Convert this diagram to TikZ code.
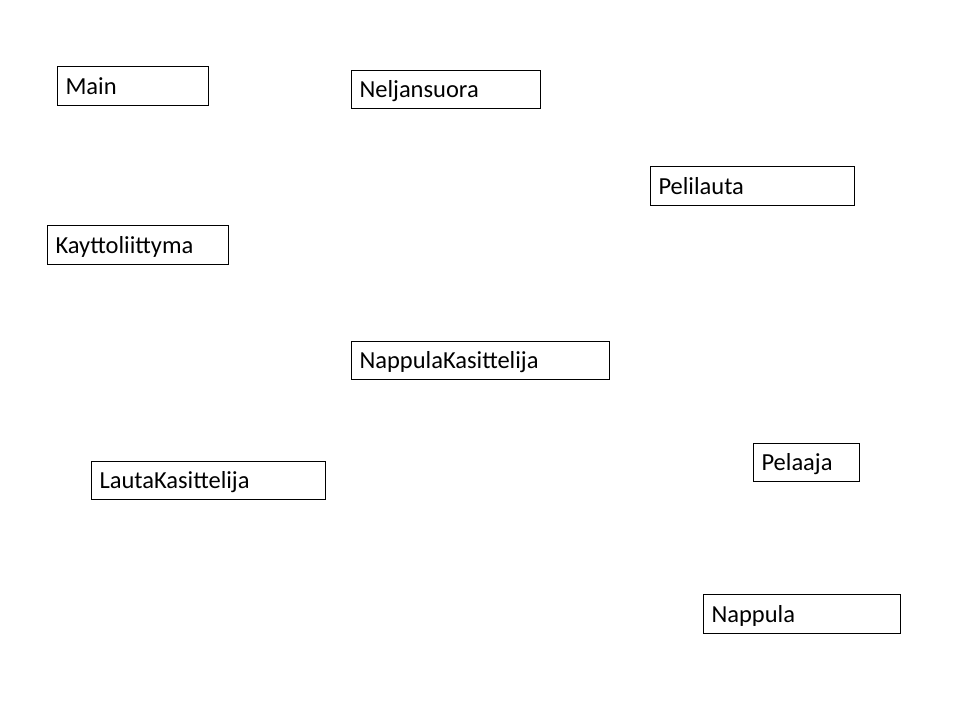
\documentclass[tikz,border=0pt]{standalone}
\usepackage{fontspec}
\setmainfont{Carlito}
\begin{document}
\begin{tikzpicture}[x=1pt,y=1pt,
  box/.style={draw=black, line width=1pt, anchor=north west, inner xsep=8pt,
    inner ysep=0pt, text height=18pt, text depth=2pt, align=left,
    font=\fontsize{24.5}{28}\selectfont, fill=white}]
\useasboundingbox (0,0) rectangle (960,-720);
\fill[white] (0,0) rectangle (960,-720);
\newcommand{\umlbox}[6]{%
  \node[box, minimum width={#4-#2}, minimum height={#5-#3}, text width={#4-#2-16}] (#1) at (#2,-#3) {#6};}
\umlbox{main}{57}{66}{208}{105}{Main}
\umlbox{nelj}{351}{70}{540}{108}{Neljansuora}
\umlbox{peli}{650}{166}{854}{205}{Pelilauta}
\umlbox{kayt}{47}{225}{228}{264}{Kayttoliittyma}
\umlbox{nkas}{351}{341}{609}{379}{NappulaKasittelija}
\umlbox{pela}{753}{443}{859}{481}{Pelaaja}
\umlbox{lkas}{91}{461}{325}{499}{LautaKasittelija}
\umlbox{napp}{703}{594}{900}{633}{Nappula}
\end{tikzpicture}
\end{document}
